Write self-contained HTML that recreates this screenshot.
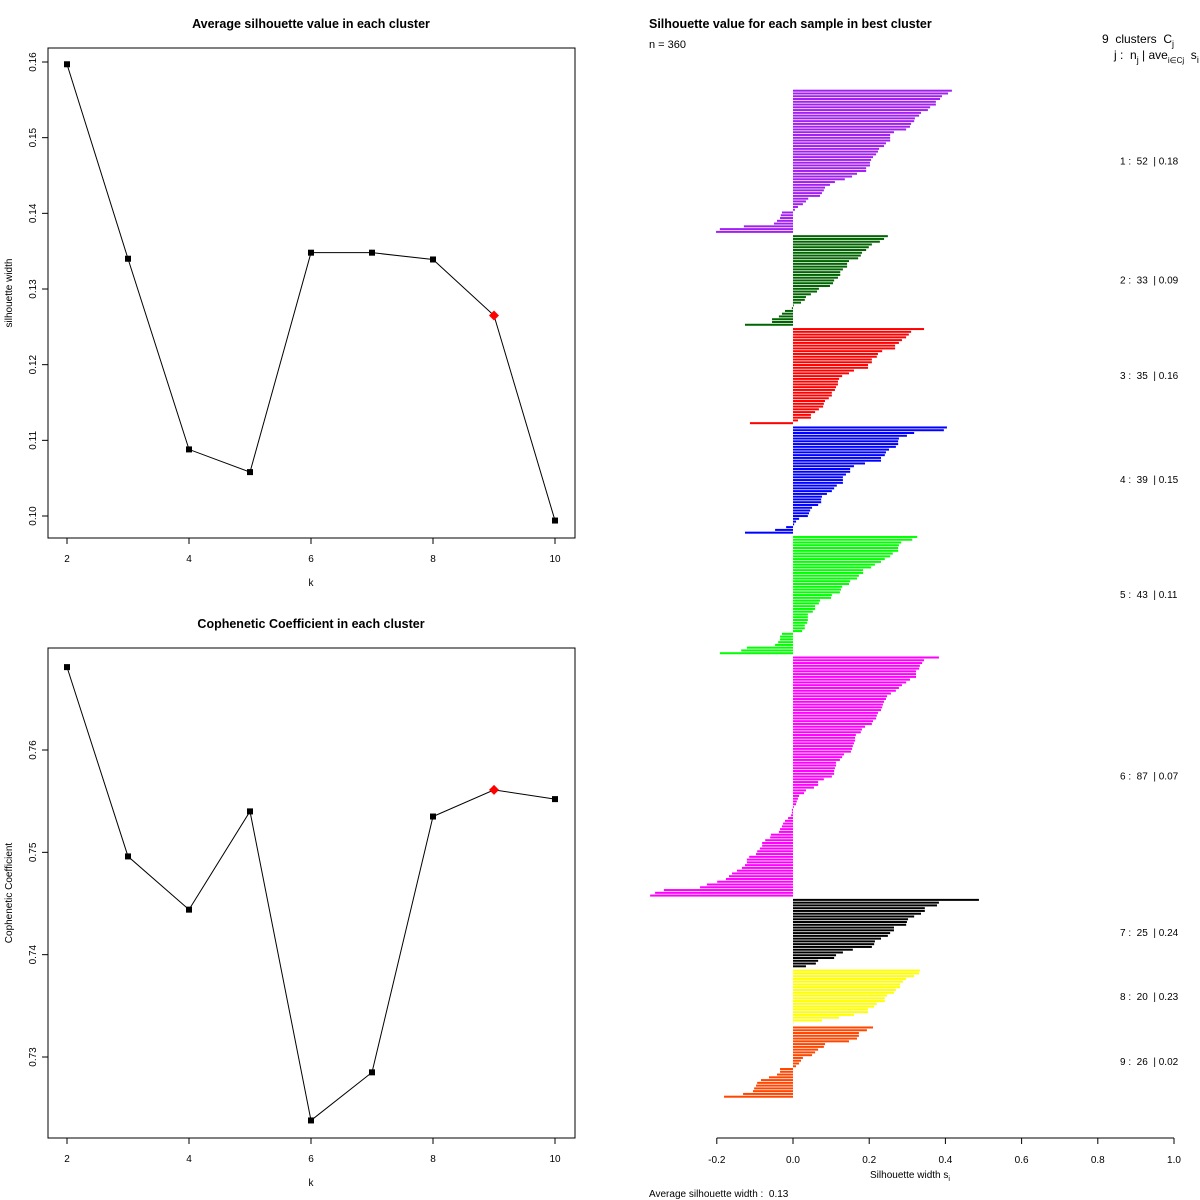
<!DOCTYPE html>
<html><head><meta charset="utf-8"><style>
html,body{margin:0;padding:0;background:#fff}
svg{display:block;font-family:"Liberation Sans",Arial,sans-serif}
</style></head><body>
<svg id="root" width="1200" height="1200" viewBox="0 0 1200 1200"></svg>
<script>
// ---- data ----
const kVals = [2,3,4,5,6,7,8,9,10];
const silAvg = [0.1597,0.1340,0.1088,0.1058,0.1348,0.1348,0.1339,0.1265,0.0994];
const silTicks = [0.10,0.11,0.12,0.13,0.14,0.15,0.16];
const copheVals = [0.7681,0.7496,0.7444,0.7540,0.7238,0.7285,0.7535,0.7561,0.7552];
const copheTicks = [0.73,0.74,0.75,0.76];
const kTicks = [2,4,6,8,10];
const bestK = 9;
const clusterColors = ["#A020F0","#006400","#FF0000","#0000FF","#00FF00","#FF00FF","#000000","#FFFF00","#FF4500"];
const clusterAvg = ["0.18","0.09","0.16","0.15","0.11","0.07","0.24","0.23","0.02"];
const c1 = [0.417,0.407,0.391,0.386,0.375,0.375,0.360,0.354,0.336,0.331,0.320,0.318,0.310,0.307,0.297,0.265,0.255,0.255,0.255,0.244,0.239,0.226,0.223,0.218,0.210,0.205,0.202,0.202,0.192,0.192,0.168,0.155,0.136,0.110,0.097,0.084,0.081,0.076,0.071,0.040,0.034,0.026,0.013,0.005,-0.029,-0.032,-0.034,-0.042,-0.050,-0.129,-0.192,-0.202];
const c2 = [0.249,0.239,0.228,0.207,0.199,0.192,0.181,0.178,0.171,0.147,0.142,0.142,0.131,0.124,0.124,0.118,0.108,0.105,0.097,0.068,0.063,0.047,0.034,0.031,0.021,0.002,-0.003,-0.021,-0.029,-0.037,-0.055,-0.055,-0.126];
const c3 = [0.344,0.310,0.304,0.297,0.286,0.278,0.268,0.268,0.234,0.223,0.220,0.207,0.207,0.197,0.197,0.160,0.147,0.129,0.121,0.118,0.118,0.113,0.110,0.102,0.102,0.094,0.084,0.081,0.079,0.068,0.058,0.047,0.047,0.013,-0.113];
const c4 = [0.404,0.396,0.318,0.299,0.278,0.276,0.276,0.270,0.252,0.244,0.241,0.231,0.231,0.189,0.160,0.150,0.150,0.139,0.131,0.131,0.131,0.115,0.108,0.102,0.089,0.076,0.074,0.074,0.066,0.050,0.045,0.042,0.039,0.016,0.008,0.003,-0.018,-0.047,-0.126];
const c5 = [0.326,0.313,0.284,0.278,0.276,0.276,0.262,0.255,0.241,0.231,0.215,0.205,0.184,0.184,0.173,0.168,0.150,0.147,0.129,0.126,0.123,0.102,0.100,0.071,0.068,0.058,0.058,0.052,0.039,0.039,0.039,0.037,0.031,0.031,0.024,-0.029,-0.034,-0.034,-0.039,-0.047,-0.121,-0.136,-0.192];
const c6 = [0.383,0.344,0.339,0.333,0.331,0.323,0.323,0.323,0.307,0.297,0.286,0.278,0.270,0.257,0.247,0.244,0.239,0.236,0.234,0.231,0.223,0.220,0.218,0.210,0.207,0.189,0.181,0.178,0.165,0.163,0.163,0.160,0.157,0.155,0.152,0.134,0.129,0.123,0.113,0.113,0.110,0.108,0.108,0.102,0.081,0.066,0.066,0.055,0.034,0.029,0.016,0.013,0.010,0.008,0.002,-0.003,-0.003,-0.005,-0.013,-0.021,-0.026,-0.029,-0.034,-0.037,-0.058,-0.060,-0.073,-0.081,-0.081,-0.087,-0.094,-0.097,-0.115,-0.121,-0.121,-0.126,-0.134,-0.147,-0.160,-0.168,-0.176,-0.199,-0.226,-0.244,-0.339,-0.362,-0.375];
const c7 = [0.488,0.383,0.378,0.346,0.346,0.336,0.318,0.302,0.299,0.297,0.265,0.265,0.255,0.249,0.231,0.215,0.213,0.207,0.157,0.131,0.113,0.108,0.066,0.060,0.034];
const c8 = [0.333,0.331,0.318,0.297,0.289,0.281,0.281,0.270,0.265,0.247,0.241,0.241,0.220,0.213,0.197,0.197,0.160,0.121,0.076,0.001];
const c9 = [0.210,0.194,0.173,0.173,0.168,0.147,0.084,0.081,0.066,0.058,0.050,0.026,0.021,0.016,0.008,-0.034,-0.034,-0.042,-0.063,-0.084,-0.094,-0.097,-0.102,-0.105,-0.131,-0.181];
const clusters = [c1,c2,c3,c4,c5,c6,c7,c8,c9];
const silXTicks = [-0.2,0,0.2,0.4,0.6,0.8,1.0];
const silXTickLabels = ["-0.2","0.0","0.2","0.4","0.6","0.8","1.0"];
const avgWidth = "0.13";

// ---- helpers ----
const NS = "http://www.w3.org/2000/svg";
const root = document.getElementById("root");
function mk(tag, attrs, parent, text){
  const e = document.createElementNS(NS, tag);
  for (const k in attrs) e.setAttribute(k, attrs[k]);
  if (text !== undefined) e.textContent = text;
  (parent || root).appendChild(e);
  return e;
}
const NB = "\u00a0";

// ---- line panels ----
function linePanel(name, top, vals, ticks, yMin, yMax, yPxMin, yPxMax, title, ylab){
  const g = mk("g", {});
  
  
  const L = 48, R = 575, T = top, B = top + 490;
  const xS = k => 67 + (k - 2) * 61;
  const yS = v => yPxMin + (v - yMin) / (yMax - yMin) * (yPxMax - yPxMin);
  const box = mk("rect", {x:L, y:T, width:R-L, height:B-T, fill:"none", stroke:"#000", "stroke-width":1}, g);
  
  
  const t = mk("text", {x:311, y:T-20, "text-anchor":"middle", "font-size":"12.5", "font-weight":"bold"}, g, title);
  
  
  kTicks.forEach(k => {
    mk("line", {x1:xS(k), x2:xS(k), y1:B, y2:B+6, stroke:"#000"}, g);
    const tl = mk("text", {x:xS(k), y:B+24, "text-anchor":"middle", "font-size":"10"}, g, String(k));
    
    
  });
  const xl = mk("text", {x:311, y:B+48, "text-anchor":"middle", "font-size":"10"}, g, "k");
  
  
  ticks.forEach(v => {
    const y = yS(v);
    mk("line", {x1:L-6, x2:L, y1:y, y2:y, stroke:"#000"}, g);
    const tl = mk("text", {x:0, y:0, "text-anchor":"middle", "font-size":"10", transform:`translate(36,${y}) rotate(-90)`}, g, v.toFixed(2));
    
    
  });
  const yl = mk("text", {x:0, y:0, "text-anchor":"middle", "font-size":"10", transform:`translate(12,${(T+B)/2}) rotate(-90)`}, g, ylab);
  
  
  const pts = vals.map((v,i) => `${xS(kVals[i])},${yS(v)}`).join(" ");
  const pl = mk("polyline", {points:pts, fill:"none", stroke:"#000", "stroke-width":1}, g);
  
  
  vals.forEach((v,i) => {
    const x = xS(kVals[i]), y = yS(v);
    if (kVals[i] === bestK){
      const d = mk("polygon", {points:`${x},${y-5} ${x+5},${y} ${x},${y+5} ${x-5},${y}`, fill:"#FF0000"}, g);
      
      
    } else {
      const p = mk("rect", {x:x-3, y:y-3, width:6, height:6, fill:"#000"}, g);
      
      
    }
  });
}
linePanel("silhouette-line-chart", 48, silAvg, silTicks, 0.10, 0.16, 516, 62, "Average silhouette value in each cluster", "silhouette width");
linePanel("cophenetic-line-chart", 648, copheVals, copheTicks, 0.73, 0.76, 1057, 750, "Cophenetic Coefficient in each cluster", "Cophenetic Coefficient");

// ---- silhouette bar plot ----
const sg = mk("g", {});


const sx = v => 793 + v * 381;
const total = clusters.reduce((a,c)=>a+c.length,0);
const gapF = 0.55;
const top0 = 90.7, bot0 = 1096.7;
const step = (bot0 - top0) / (total - 1 + gapF * (clusters.length - 1));
let idx = 0;
clusters.forEach((c, ci) => {
  const cg = mk("g", {}, sg);
  
  
  const yStart = top0 + (idx + gapF*ci) * step;
  c.forEach((v, i) => {
    const y = top0 + (idx + gapF*ci) * step;
    const x0 = Math.min(sx(0), sx(v)), w = Math.abs(sx(v) - sx(0));
    const b = mk("rect", {x:x0, y:y-1, width:Math.max(w,0.5), height:2, fill:clusterColors[ci]}, cg);
    
    
    idx++;
  });
  const yEnd = top0 + (idx - 1 + gapF*ci) * step;
  const lab = mk("text", {x:1120, y:(yStart+yEnd)/2 + 3, "font-size":"10"}, sg,
    `${ci+1}${NB}:${NB}${NB}${c.length}${NB}${NB}|${NB}${clusterAvg[ci]}`);
  
  
});
mk("line", {x1:sx(-0.2), x2:sx(1.0), y1:1138, y2:1138, stroke:"#000"}, sg);
silXTicks.forEach((v,i) => {
  mk("line", {x1:sx(v), x2:sx(v), y1:1138, y2:1144, stroke:"#000"}, sg);
  const tl = mk("text", {x:sx(v), y:1163, "text-anchor":"middle", "font-size":"10"}, sg, silXTickLabels[i]);
  
  
});
const xt = mk("text", {x:910, y:1178, "text-anchor":"middle", "font-size":"10"}, sg);


xt.innerHTML = 'Silhouette width s<tspan font-size="7" dy="3">i</tspan>';
const aw = mk("text", {x:649, y:1197, "font-size":"10"}, sg, "Average silhouette width" + NB + ":" + NB + NB + avgWidth);


const st = mk("text", {x:649, y:28, "font-size":"12.5", "font-weight":"bold"}, sg, "Silhouette value for each sample in best cluster");


const nt = mk("text", {x:649, y:48, "font-size":"11"}, sg, "n = " + total);


const h1 = mk("text", {x:1102, y:43, "font-size":"12"}, sg);


h1.innerHTML = '9&#160;&#160;clusters&#160;&#160;C<tspan font-size="9" dy="4">j</tspan>';
const h2 = mk("text", {x:1114, y:59, "font-size":"12"}, sg);


h2.innerHTML = 'j :&#160;&#160;n<tspan font-size="9" dy="4">j</tspan><tspan dy="-4"> | ave</tspan><tspan font-size="8" dy="4">i∈Cj</tspan><tspan dy="-4">&#160;&#160;s</tspan><tspan font-size="9" dy="4">i</tspan>';
</script>
</body></html>
